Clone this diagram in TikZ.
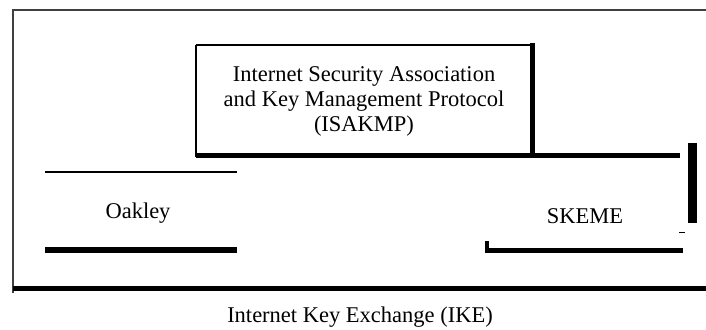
\documentclass[tikz,border=0pt]{standalone}
\usepackage{fontspec}
\setmainfont{Liberation Serif}
\begin{document}
\begin{tikzpicture}[x=1pt,y=-1pt,
  thinframe/.style={line width=1.6pt,draw=black!75},
  thinrule/.style={line width=1.4pt,draw=black},
  thickrule/.style={line width=5pt,draw=black},
  label/.style={font=\fontsize{22.5}{25}\selectfont,inner sep=0pt},
]
\useasboundingbox (0,0) rectangle (706,329);
% outer frame
\coordinate (ftl) at (13,10);
\coordinate (ftr) at (706,10);
\coordinate (fbl) at (13,293);
\coordinate (fbl2) at (13,288);
\coordinate (fbr) at (706,288);
\draw[thinframe] (ftr) -- (ftl) -- (fbl);
\draw[thickrule] (fbl2) -- (fbr);
% ISAKMP box
\coordinate (itl) at (196,45);
\coordinate (itr) at (532,45);
\coordinate (ibl) at (196,157);
\coordinate (ibl2) at (196,155);
\coordinate (ibr) at (532,157);
\coordinate (itr2) at (532,43);
\coordinate (iend) at (680,155);
\draw[thinrule] (itl) -- (itr);
\draw[thinrule] (itl) -- (ibl);
\draw[thickrule] (itr2) -- (ibr);
\draw[thickrule] (ibl2) -- (iend);
\node[label,align=center] (isakmp) at (364,101)
  {Internet Security Association\\and Key Management Protocol\\(ISAKMP)};
% Oakley
\coordinate (otl) at (45,172);
\coordinate (otr) at (237,172);
\coordinate (obl) at (45,250);
\coordinate (obr) at (237,250);
\draw[line width=1.3pt] (otl) -- (otr);
\draw[line width=6pt] (obl) -- (obr);
\node[label,anchor=base] (oakley) at (138,218) {Oakley};
% SKEME
\coordinate (sbt) at (692,143);
\coordinate (sbb) at (692,223);
\draw[line width=9pt] (sbt) -- (sbb);
\coordinate (sdl) at (679,232);
\coordinate (sdr) at (685,232);
\draw[line width=1pt] (sdl) -- (sdr);
\coordinate (sll) at (485,250);
\coordinate (slr) at (683,250);
\draw[thickrule] (sll) -- (slr);
\coordinate (stt) at (487,241);
\coordinate (stb) at (487,252);
\draw[line width=4pt] (stt) -- (stb);
\node[label,anchor=base] (skeme) at (585,223) {SKEME};
% caption
\node[label,anchor=base] (ike) at (360,322) {Internet Key Exchange (IKE)};
\end{tikzpicture}
\end{document}
